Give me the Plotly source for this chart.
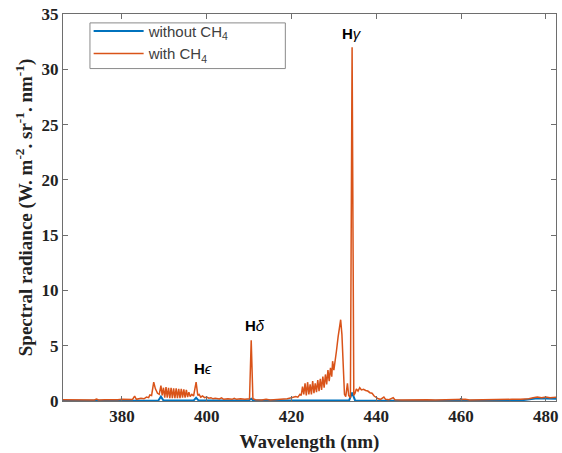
import plotly.graph_objects as go

# ---- data ----
wl_with = [366.0, 368.0, 369.0, 370.0, 372.0, 373.5, 374.0, 374.5, 376.0, 377.0, 378.0, 379.0,
           380.0, 381.0, 382.5, 383.0, 383.4, 384.5, 385.2, 385.8, 386.3, 386.6, 387.0, 387.5,
           387.9, 388.4, 388.8, 389.2, 389.5, 389.8, 390.1, 390.4, 390.7, 391.0, 391.3, 391.6,
           391.9, 392.2, 392.5, 392.8, 393.1, 393.4, 393.7, 394.0, 394.3, 394.6, 394.9, 395.2,
           395.5, 395.8, 396.1, 396.5, 396.9, 397.5, 397.9, 398.2, 398.6, 399.0, 399.5, 400.0,
           400.5, 401.0, 401.5, 402.0, 403.0, 403.5, 404.0, 405.0, 406.0, 406.5, 407.0, 408.0,
           409.0, 410.1, 410.5, 410.9, 411.5, 413.0, 414.0, 415.0, 416.5, 418.0, 419.0, 420.0,
           421.0, 421.5, 422.0, 422.3, 422.6, 422.9, 423.2, 423.5, 423.8, 424.1, 424.4, 424.7,
           425.0, 425.3, 425.6, 425.9, 426.2, 426.5, 426.8, 427.1, 427.4, 427.7, 428.0, 428.3,
           428.6, 428.9, 429.2, 429.5, 429.7, 430.0, 430.3, 430.6, 431.0, 431.6, 431.9, 432.2,
           432.5, 432.8, 433.2, 433.5, 433.9, 434.3, 434.7, 435.0, 435.3, 435.7, 436.1, 436.5,
           437.0, 437.5, 438.0, 438.5, 439.0, 439.5, 440.0, 440.5, 441.0, 441.8, 442.2, 443.0,
           444.0, 444.4, 446.0, 448.0, 450.0, 452.0, 454.0, 456.0, 458.0, 460.0, 461.0, 462.0,
           464.0, 466.0, 468.0, 470.0, 472.0, 474.0, 476.0, 477.0, 478.0, 479.0, 480.0, 481.0,
           482.5]
rad_with = [0.12, 0.10, 0.14, 0.10, 0.12, 0.10, 0.18, 0.10, 0.12, 0.10, 0.14, 0.12,
            0.15, 0.12, 0.14, 0.45, 0.15, 0.25, 0.20, 0.35, 0.30, 0.55, 0.50, 1.70,
            1.10, 0.70, 0.60, 1.40, 0.50, 1.20, 0.30, 1.25, 0.30, 1.20, 0.25, 1.20,
            0.25, 1.15, 0.25, 1.15, 0.25, 1.10, 0.25, 1.10, 0.30, 1.05, 0.30, 1.00,
            0.35, 0.80, 0.40, 0.60, 0.45, 1.70, 0.50, 0.60, 0.35, 0.45, 0.30, 0.35,
            0.25, 0.30, 0.20, 0.25, 0.18, 0.28, 0.15, 0.20, 0.15, 0.25, 0.15, 0.20,
            0.15, 0.20, 5.50, 0.20, 0.12, 0.10, 0.15, 0.10, 0.12, 0.15, 0.20, 0.30,
            0.40, 0.35, 0.60, 0.50, 1.30, 0.60, 1.60, 0.50, 1.70, 0.60, 1.50, 0.60,
            1.80, 0.70, 1.60, 0.80, 1.90, 0.90, 2.00, 1.00, 2.20, 1.20, 2.40, 1.50,
            2.80, 1.80, 3.00, 2.20, 3.60, 2.80, 4.00, 4.50, 5.80, 7.35, 6.00, 3.00,
            0.60, 0.40, 1.60, 0.50, 0.30, 32.0, 0.50, 0.70, 1.10, 0.90, 1.20, 1.00,
            1.05, 0.95, 0.90, 0.75, 0.70, 0.45, 0.30, 0.20, 0.15, 0.35, 0.15, 0.12,
            0.30, 0.12, 0.10, 0.12, 0.10, 0.12, 0.10, 0.12, 0.10, 0.12, 0.15, 0.10,
            0.12, 0.14, 0.12, 0.14, 0.15, 0.15, 0.20, 0.30, 0.35, 0.30, 0.35, 0.30,
            0.35]

wl_without = [366.0, 386.0, 388.6, 389.2, 389.8, 396.9, 397.5, 398.1, 409.9, 410.5, 411.0,
              433.6, 434.3, 435.0, 459.8, 460.0, 460.2, 474.0, 476.0, 478.0, 480.0, 482.5]
rad_without = [0.03, 0.03, 0.05, 0.40, 0.05, 0.04, 0.30, 0.04, 0.04, 0.20, 0.04,
               0.05, 0.75, 0.05, 0.03, 0.25, 0.03, 0.05, 0.12, 0.25, 0.22, 0.20]

x_ticks = [380, 400, 420, 440, 460, 480]
y_ticks = [0, 5, 10, 15, 20, 25, 30, 35]

peak_labels = ["<b>H</b><i>γ</i>", "<b>H</b><i>δ</i>", "<b>H</b><i>ϵ</i>"]
peak_x = [434.3, 411.4, 399.1]
peak_y = [33.2, 6.8, 2.9]

BLUE = "#0072BD"
ORANGE = "#D95319"
FRAME = "#6e6e6e"

fig = go.Figure()
fig.add_trace(go.Scatter(x=wl_without, y=rad_without, mode="lines",
                         line=dict(color=BLUE, width=2),
                         name="without CH<sub>4</sub>"))
fig.add_trace(go.Scatter(x=wl_with, y=rad_with, mode="lines",
                         line=dict(color=ORANGE, width=1.5),
                         name="with CH<sub>4</sub>"))

for t, x, y in zip(peak_labels, peak_x, peak_y):
    fig.add_annotation(x=x, y=y, text=t, showarrow=False,
                       font=dict(family="Liberation Sans", size=15, color="black"))

# legend frame (MATLAB-style wide box)
fig.add_shape(type="rect", xref="paper", yref="paper",
              x0=0.0547, x1=0.451, y0=0.859, y1=0.977,
              line=dict(color="#8a8a8a", width=1), fillcolor="white", layer="above")

serif_bold = dict(family="Liberation Serif", size=17, color="#222", weight="bold")

fig.update_xaxes(range=[366.1, 482.4], tickvals=x_ticks, ticks="inside", ticklen=5,
                 tickcolor=FRAME, showline=True, linecolor=FRAME, linewidth=1,
                 mirror="ticks", showgrid=False, zeroline=False,
                 tickfont=serif_bold, automargin=False,
                 title=dict(text="Wavelength (nm)", standoff=13,
                            font=dict(family="Liberation Serif", size=19, color="#222", weight="bold")))
fig.update_yaxes(range=[0, 35], tickvals=y_ticks, ticks="inside", ticklen=5,
                 tickcolor=FRAME, showline=True, linecolor=FRAME, linewidth=1,
                 mirror="ticks", showgrid=False, zeroline=False,
                 tickfont=serif_bold,
                 title=dict(text="Spectral radiance (W. m<sup>-2</sup>. sr<sup>-1</sup>. nm<sup>-1</sup>)",
                            standoff=3,
                            font=dict(family="Liberation Serif", size=19, color="#222", weight="bold")))

fig.update_layout(
    width=562, height=453,
    margin=dict(l=63, r=5, t=11, b=52),
    paper_bgcolor="white", plot_bgcolor="white",
    legend=dict(x=0.052, y=0.998, xanchor="left", yanchor="top",
                bgcolor="rgba(0,0,0,0)", borderwidth=0,
                font=dict(family="Liberation Sans", size=15, color="#404040"),
                tracegroupgap=0, itemwidth=50),
    showlegend=True,
)

fig.write_html("out.html")
